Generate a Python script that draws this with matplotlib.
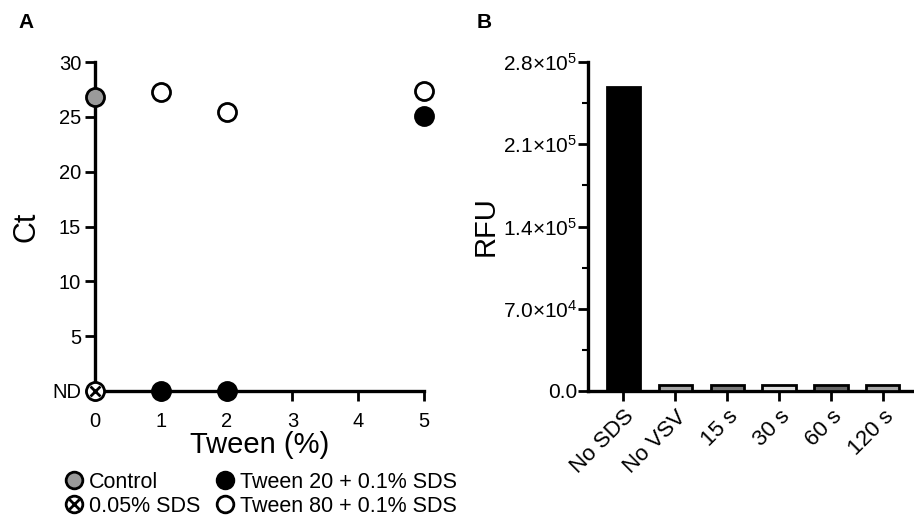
import matplotlib
matplotlib.use("Agg")
import matplotlib.pyplot as plt
from matplotlib.legend_handler import HandlerTuple
from matplotlib.lines import Line2D
import numpy as np

plt.rcParams['font.family'] = ['Liberation Sans', 'DejaVu Sans']
plt.rcParams['mathtext.fontset'] = 'custom'
plt.rcParams['mathtext.rm'] = 'Liberation Sans'
plt.rcParams['mathtext.it'] = 'Liberation Sans'

# Panel A data
control_x = [0]
control_y = [26.8]
sds_x = [0]
sds_y = [0]
tw20_x = [1, 2, 5]
tw20_y = [0, 0, 25.1]
tw80_x = [1, 2, 5]
tw80_y = [27.25, 25.4, 27.4]
a_yticks = [0, 5, 10, 15, 20, 25, 30]
a_yticklabels = ['ND', '5', '10', '15', '20', '25', '30']
a_xticks = [0, 1, 2, 3, 4, 5]

# Panel B data
b_cats = ['No SDS', 'No VSV', '15 s', '30 s', '60 s', '120 s']
b_vals = [2.59e5, 5200, 5000, 5000, 5000, 5200]
b_colors = ['#000000', '#a6a6a6', '#7a7a7a', '#dedede', '#666666', '#a8a8a8']
b_yticks = [0, 7.0e4, 1.4e5, 2.1e5, 2.8e5]
b_yticklabels = ['0.0', r'7.0$\times$10$^{4}$', r'1.4$\times$10$^{5}$', r'2.1$\times$10$^{5}$', r'2.8$\times$10$^{5}$']

W, H = 914, 522
fig = plt.figure(figsize=(W / 100, H / 100), dpi=100)

TICK_FS = 14.5
LABEL_FS = 21

# ---------- Panel A ----------
axA = fig.add_axes([95 / W, 1 - 391 / H, (424 - 95) / W, (391 - 62) / H])
ms = 13
mew = 2.0
axA.plot(control_x, control_y, 'o', ms=ms, mfc='#9a9a9a', mec='black', mew=mew, clip_on=False, zorder=5)
axA.plot(sds_x, sds_y, 'o', ms=ms, mfc='white', mec='black', mew=mew, clip_on=False, zorder=5)
axA.plot(sds_x, sds_y, 'x', ms=ms * 0.55, mec='black', mew=mew, clip_on=False, zorder=6)
axA.plot(tw20_x, tw20_y, 'o', ms=ms, mfc='black', mec='black', mew=mew, clip_on=False, zorder=5)
axA.plot(tw80_x, tw80_y, 'o', ms=ms, mfc='white', mec='black', mew=mew, clip_on=False, zorder=5)

axA.set_xlim(0, 5)
axA.set_ylim(0, 30)
axA.set_xticks(a_xticks)
axA.set_yticks(a_yticks)
axA.set_yticklabels(a_yticklabels)
for s in ['top', 'right']:
    axA.spines[s].set_visible(False)
for s in ['left', 'bottom']:
    axA.spines[s].set_linewidth(2.4)
axA.tick_params(width=2.0, length=7, labelsize=TICK_FS)
axA.tick_params(axis='y', pad=3)
axA.tick_params(axis='x', pad=8)
axA.set_ylabel('Ct', fontsize=LABEL_FS + 1, labelpad=8)
axA.set_xlabel('Tween (%)', fontsize=LABEL_FS, labelpad=0)

h_control = Line2D([], [], ls='none', marker='o', ms=12, mfc='#9a9a9a', mec='black', mew=mew)
h_sds = (Line2D([], [], ls='none', marker='o', ms=12, mfc='white', mec='black', mew=mew),
         Line2D([], [], ls='none', marker='x', ms=6.5, mec='black', mew=mew))
h_tw20 = Line2D([], [], ls='none', marker='o', ms=12, mfc='black', mec='black', mew=mew)
h_tw80 = Line2D([], [], ls='none', marker='o', ms=12, mfc='white', mec='black', mew=mew)
fig.legend([h_control, h_sds, h_tw20, h_tw80],
           ['Control', '0.05% SDS', 'Tween 20 + 0.1% SDS', 'Tween 80 + 0.1% SDS'],
           handler_map={tuple: HandlerTuple(ndivide=1)},
           ncol=2, loc='upper left', bbox_to_anchor=(65 / W, 1 - 472 / H),
           frameon=False, fontsize=15.5, handlelength=0.8, handletextpad=0.3,
           columnspacing=0.75, labelspacing=0.12, borderaxespad=0, borderpad=0)

fig.text(18 / W, 1 - 22 / H, 'A', fontsize=15, fontweight='bold', va='center', ha='left')

# ---------- Panel B ----------
axB = fig.add_axes([588 / W, 1 - 391 / H, (914 - 588) / W, (391 - 62) / H])
x = np.arange(len(b_cats))
axB.bar(x, b_vals, width=0.64, color=b_colors, edgecolor='black', linewidth=2.0, zorder=3)
axB.set_xlim(-0.68, 5.6)
axB.set_ylim(0, 2.8e5)
axB.set_yticks(b_yticks)
axB.set_yticklabels(b_yticklabels, fontsize=15)
axB.set_yticks([3.5e4, 1.05e5, 1.75e5, 2.45e5], minor=True)
axB.set_xticks(x)
axB.set_xticklabels(b_cats, rotation=45, ha='right', rotation_mode='anchor', fontsize=16)
for s in ['top', 'right']:
    axB.spines[s].set_visible(False)
for s in ['left', 'bottom']:
    axB.spines[s].set_linewidth(2.4)
axB.tick_params(which='major', width=2.0, length=7)
axB.tick_params(which='minor', width=1.5, length=4)
axB.tick_params(axis='y', pad=1)
axB.tick_params(axis='x', pad=4)
axB.set_ylabel('RFU', fontsize=LABEL_FS, labelpad=2)

fig.text(477 / W, 1 - 22 / H, 'B', fontsize=15, fontweight='bold', va='center', ha='left')

fig.savefig('out.png', dpi=100)
